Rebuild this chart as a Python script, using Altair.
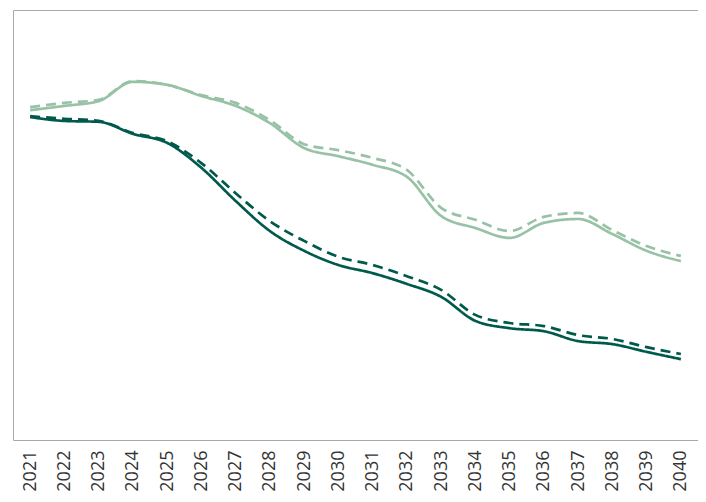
import altair as alt
import pandas as pd

years = [str(y) for y in range(2021, 2041)]

light_solid = [76.7, 77.7, 78.8, 83.3, 82.6, 80.0, 77.7, 73.7, 67.9, 66.0,
               64.0, 61.2, 52.1, 49.3, 47.0, 50.5, 51.4, 47.9, 44.0, 41.6]
light_dashed = [77.4, 78.4, 79.1, 83.5, 82.6, 80.2, 78.4, 74.4, 68.8, 67.4,
                65.6, 62.8, 54.0, 51.2, 48.6, 51.9, 52.8, 48.8, 45.1, 42.8]
dark_solid = [75.1, 74.2, 74.0, 71.2, 69.1, 63.3, 55.6, 48.6, 44.0, 40.7,
              38.8, 36.3, 33.3, 27.7, 26.0, 25.3, 23.0, 22.3, 20.5, 18.8]
dark_dashed = [75.3, 74.7, 74.2, 71.4, 69.5, 64.4, 57.4, 50.9, 46.3, 42.6,
               40.7, 38.1, 34.9, 29.1, 27.2, 26.5, 24.4, 23.5, 21.6, 20.0]

series = {
    "light_solid": light_solid,
    "light_dashed": light_dashed,
    "dark_solid": dark_solid,
    "dark_dashed": dark_dashed,
}
rows = []
for name, vals in series.items():
    for y, v in zip(years, vals):
        rows.append({"year": y, "value": v, "series": name,
                     "dash": "dashed" if "dashed" in name else "solid"})
df = pd.DataFrame(rows)

x = alt.X("year:O", title=None,
          scale=alt.Scale(type="point", padding=0.5),
          axis=alt.Axis(labelAngle=-90, labelFont="Open Sans", labelFontSize=18,
                        labelColor="#333333", labelPadding=10, ticks=False,
                        domain=False, grid=False, labelAlign="right",
                        labelBaseline="middle"))
y = alt.Y("value:Q", title=None, scale=alt.Scale(domain=[0, 100]), axis=None)

chart = alt.Chart(df).mark_line(interpolate="monotone", strokeWidth=2.7).encode(
    x=x,
    y=y,
    detail="series:N",
    color=alt.Color("series:N", legend=None,
                    scale=alt.Scale(domain=["light_solid", "light_dashed", "dark_solid", "dark_dashed"],
                                    range=["#98c2a5", "#98c2a5", "#005a4c", "#005a4c"])),
    strokeDash=alt.StrokeDash("dash:N", legend=None,
                              scale=alt.Scale(domain=["solid", "dashed"],
                                              range=[[1, 0], [10, 6]])),
).properties(
    width=685, height=430,
    padding={"left": 5, "top": 2, "right": 0, "bottom": 0},
).configure_view(
    stroke="#aaaaaa", strokeWidth=1
)

chart.save("out.html", embed_options={"renderer": "svg", "actions": False})
